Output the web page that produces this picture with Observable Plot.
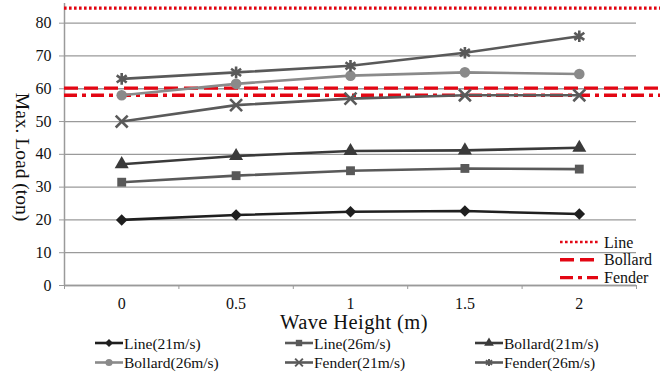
<!DOCTYPE html>
<html><head><meta charset="utf-8">
<script src="https://cdn.jsdelivr.net/npm/d3@7"></script>
<script src="https://cdn.jsdelivr.net/npm/@observablehq/plot@0.6"></script>
<style>body{margin:0;background:#fff}</style>
</head><body><div id="chart"></div>
<script>
const waveHeights = [0, 0.5, 1, 1.5, 2];
const yTicks = [0, 10, 20, 30, 40, 50, 60, 70, 80];
const seriesNames = ["Line(21m/s)", "Line(26m/s)", "Bollard(21m/s)", "Bollard(26m/s)", "Fender(21m/s)", "Fender(26m/s)"];
const line21 = [20, 21.5, 22.5, 22.7, 21.8];
const line26 = [31.5, 33.5, 35, 35.7, 35.5];
const bollard21 = [37, 39.5, 41, 41.2, 42];
const bollard26 = [58, 61.5, 64, 65, 64.5];
const fender21 = [50, 55, 57, 58, 58];
const fender26 = [63, 65, 67, 71, 76];
const limitNames = ["Line", "Bollard", "Fender"];
const limitValues = [84.6, 60.2, 58];

const seriesValues = [line21, line26, bollard21, bollard26, fender21, fender26];
// six-armed asterisk (x plus vertical bar)
const asterisk6 = {
  draw(ctx, size) {
    const r = Math.sqrt(size / Math.PI);
    const a = r * 0.86, b = r * 0.62;
    ctx.moveTo(0, -r); ctx.lineTo(0, r);
    ctx.moveTo(-a, -b); ctx.lineTo(a, b);
    ctx.moveTo(-a, b); ctx.lineTo(a, -b);
  }
};
const seriesStyle = [
  {color: "#1f1f1f", symbol: d3.symbolDiamond2, filled: true, r: 5.2},
  {color: "#595959", symbol: d3.symbolSquare, filled: true, r: 5},
  {color: "#3a3a3a", symbol: d3.symbolTriangle, filled: true, r: 5.2},
  {color: "#8a8a8a", symbol: d3.symbolCircle, filled: true, r: 5.3},
  {color: "#5a5a5a", symbol: d3.symbolTimes, filled: false, r: 5.5},
  {color: "#595959", symbol: asterisk6, filled: false, r: 5.8}
];
const limitDash = ["2.6,2.4", "14,6", "13,5,4,5"];
const red = "#e30613";
const font = "'Liberation Serif', serif";

const step = waveHeights[1] - waveHeights[0];
const xDomain = [waveHeights[0] - step / 2, waveHeights[waveHeights.length - 1] + step / 2];
const boundaries = d3.range(waveHeights.length + 1).map(i => xDomain[0] + i * step);

const rows = [];
seriesNames.forEach((name, s) => waveHeights.forEach((h, i) => rows.push({series: name, s, h, v: seriesValues[s][i]})));

const marks = [
  Plot.gridY(yTicks, {stroke: "#9a9a9a", strokeOpacity: 1, strokeWidth: 1.3}),
  Plot.ruleX([xDomain[0]], {stroke: "#9a9a9a", strokeWidth: 1.5}),
  Plot.ruleY([0], {stroke: "#9a9a9a", strokeWidth: 1.5}),
  Plot.axisY({ticks: yTicks, tickSize: 5, tickPadding: 8, label: null, fontSize: 16, stroke: "#9a9a9a", color: "#111"}),
  Plot.axisX({ticks: boundaries, tickSize: 4, tickFormat: () => "", label: null, stroke: "#9a9a9a"}),
  Plot.axisX({ticks: waveHeights, tickSize: 0, tickPadding: 12, label: null, fontSize: 16, color: "#111", tickFormat: d => String(d)}),
  Plot.ruleY(limitNames.map((n, i) => ({n, v: limitValues[i], i})), {
    y: "v", stroke: red, strokeWidth: 3.4, className: "limits"
  })
];
seriesNames.forEach((name, s) => {
  const st = seriesStyle[s];
  const d = rows.filter(r => r.s === s);
  marks.push(Plot.line(d, {x: "h", y: "v", stroke: st.color, strokeWidth: 2.6}));
  marks.push(Plot.dot(d, {x: "h", y: "v", symbol: st.symbol, r: st.r,
    fill: st.filled ? st.color : "none", stroke: st.filled ? "none" : st.color, strokeWidth: st.filled ? 0 : 2.6}));
});

const chart = Plot.plot({
  width: 666, height: 373,
  marginLeft: 64, marginRight: 30, marginTop: 3, marginBottom: 88,
  x: {domain: xDomain},
  y: {domain: [0, 86]},
  style: {fontFamily: font, background: "white", color: "#111"},
  marks
});
document.getElementById("chart").appendChild(chart);

const svg = d3.select(chart);
// limit lines extend past the plot frame
svg.selectAll(".limits line").each(function(d, i) {
  d3.select(this).attr("x2", 660).attr("stroke-dasharray", limitDash[i]);
});

// y label (rotated clockwise)
svg.append("text").attr("transform", "translate(22,157) rotate(90)")
  .attr("text-anchor", "middle").attr("dominant-baseline", "central")
  .attr("font-size", 19.5).attr("fill", "#111")
  .text("Max. Load (ton)");
// x label
svg.append("text").attr("x", 354).attr("y", 329).attr("text-anchor", "middle")
  .attr("font-size", 20.5).attr("letter-spacing", 0.4).attr("fill", "#111")
  .text("Wave Height (m)");

// inner legend for limits
limitNames.forEach((n, i) => {
  const y = 242 + i * 17.8;
  svg.append("line").attr("x1", 560).attr("x2", 598).attr("y1", y).attr("y2", y)
    .attr("stroke", red).attr("stroke-width", i === 0 ? 2.6 : 3.4).attr("stroke-dasharray", limitDash[i]);
  svg.append("text").attr("x", 604).attr("y", y).attr("dominant-baseline", "central")
    .attr("text-anchor", "start")
    .attr("font-size", 16).attr("fill", "#111").text(n);
});

// bottom legend
const colX = [95, 285, 475];
const rowY = [343, 362.5];
seriesNames.forEach((name, s) => {
  const st = seriesStyle[s];
  const x = colX[s % 3], y = rowY[Math.floor(s / 3)];
  const g = svg.append("g");
  g.append("line").attr("x1", x).attr("x2", x + 28).attr("y1", y).attr("y2", y)
    .attr("stroke", st.color).attr("stroke-width", 2.6);
  g.append("path").attr("transform", `translate(${x + 14},${y})`)
    .attr("d", d3.symbol(st.symbol, Math.PI * 3.6 * 3.6)())
    .attr("fill", st.filled ? st.color : "none").attr("stroke", st.filled ? "none" : st.color)
    .attr("stroke-width", 2);
  g.append("text").attr("x", x + 29).attr("y", y).attr("dominant-baseline", "central")
    .attr("text-anchor", "start")
    .attr("font-size", 15.5).attr("fill", "#111").text(name);
});
svg.selectAll("text").style("font-family", font, "important").attr("font-family", font);
</script>
</body></html>
